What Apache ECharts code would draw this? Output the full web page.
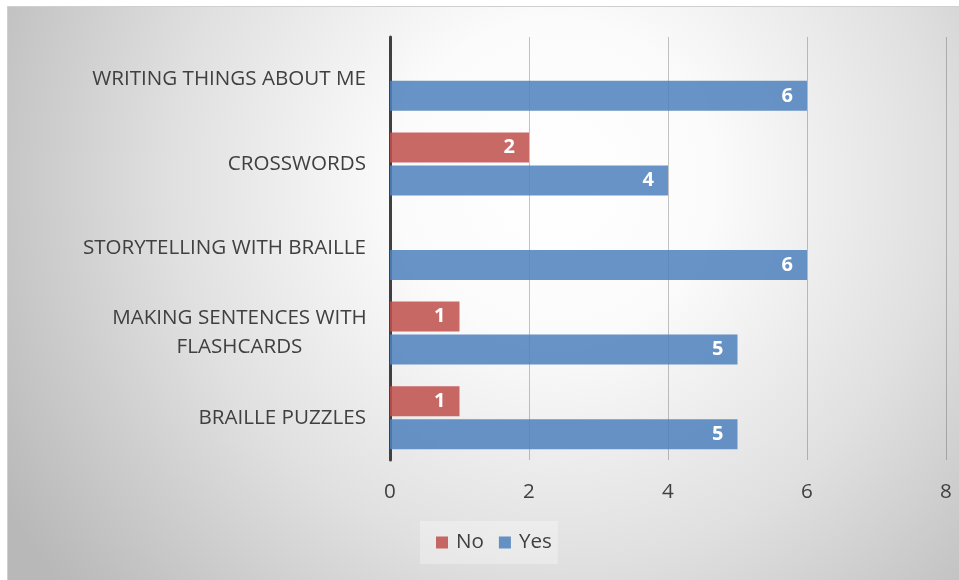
<!DOCTYPE html>
<html>
<head>
<meta charset="utf-8">
<script src="https://cdn.jsdelivr.net/npm/echarts@6/dist/echarts.min.js"></script>
<style>
html,body{margin:0;padding:0;background:#fff;}
#c{width:959px;height:580px;}
</style>
</head>
<body>
<div id="c"></div>
<script>
// Categories listed bottom to top (ECharts category y-axis order)
const categories = ['BRAILLE PUZZLES', 'MAKING SENTENCES WITH\nFLASHCARDS', 'STORYTELLING WITH BRAILLE', 'CROSSWORDS', 'WRITING THINGS ABOUT ME'];
const seriesNames = ['No', 'Yes'];
const noValues = [1, 1, 0, 2, 0];
const yesValues = [5, 5, 6, 4, 6];
const xTicks = [0, 2, 4, 6, 8];

const chart = echarts.init(document.getElementById('c'), null, {renderer: 'canvas'});
const FONT = '"Open Sans", "Liberation Sans", sans-serif';
const TXT = '#404040';
const FS = 20.6;

const labelStyle = {
  show: true,
  position: 'insideRight',
  distance: 14,
  color: '#ffffff',
  fontWeight: 'bold',
  fontSize: 20,
  fontFamily: FONT,
  formatter: p => (p.value ? String(p.value) : '')
};

chart.setOption({
  animation: false,
  graphic: [{
    type: 'rect',
    z: -10,
    silent: true,
    shape: {x: 7.5, y: 6.5, width: 960, height: 580},
    style: {
      fill: {
        type: 'radial', x: 0.57, y: 0.3, r: 1.1,
        colorStops: [
          {offset: 0, color: '#ffffff'},
          {offset: 0.25, color: '#fbfbfb'},
          {offset: 0.6, color: '#e0e0e0'},
          {offset: 1, color: '#b8b8b8'}
        ]
      },
      stroke: '#d0d0d0',
      lineWidth: 1
    }
  }],
  grid: {left: 390, right: 13, top: 37, bottom: 120, containLabel: false},
  legend: {
    data: seriesNames,
    left: 420,
    top: 521,
    itemWidth: 12,
    itemHeight: 12,
    itemGap: 15,
    padding: [11, 6, 11, 16],
    backgroundColor: 'rgba(255,255,255,0.3)',
    icon: 'rect',
    textStyle: {fontSize: FS, color: TXT, fontFamily: FONT, padding: [0, 0, 0, 3]}
  },
  xAxis: {
    type: 'value',
    min: 0,
    max: 8,
    interval: 2,
    axisLine: {show: false},
    axisTick: {show: false},
    splitLine: {show: true, lineStyle: {color: 'rgba(60,60,60,0.3)', width: 1}},
    axisLabel: {
      fontSize: FS, color: TXT, fontFamily: FONT, margin: 22,
      formatter: v => (xTicks.indexOf(v) >= 0 ? String(v) : '')
    }
  },
  yAxis: {
    type: 'category',
    data: categories,
    axisLine: {show: true, lineStyle: {color: '#404040', width: 3}},
    axisTick: {show: false},
    splitLine: {show: false},
    axisLabel: {
      fontSize: FS, color: TXT, fontFamily: FONT, margin: 24, lineHeight: 29,
      formatter: v => v.indexOf('\n') >= 0 ? v.split('\n').map(s => '{m|' + s + '}').join('\n') : v,
      rich: {m: {width: 253, align: 'center', fontSize: FS, color: TXT, fontFamily: FONT, lineHeight: 29}}
    }
  },
  series: [
    {
      name: 'No', type: 'bar', data: noValues, barWidth: 30, barGap: '10%',
      itemStyle: {color: 'rgba(192,80,77,0.86)', borderWidth: 0},
      label: labelStyle
    },
    {
      name: 'Yes', type: 'bar', data: yesValues, barWidth: 30, barGap: '10%',
      itemStyle: {color: 'rgba(79,129,189,0.86)', borderWidth: 0},
      label: labelStyle
    }
  ]
});
</script>
</body>
</html>
